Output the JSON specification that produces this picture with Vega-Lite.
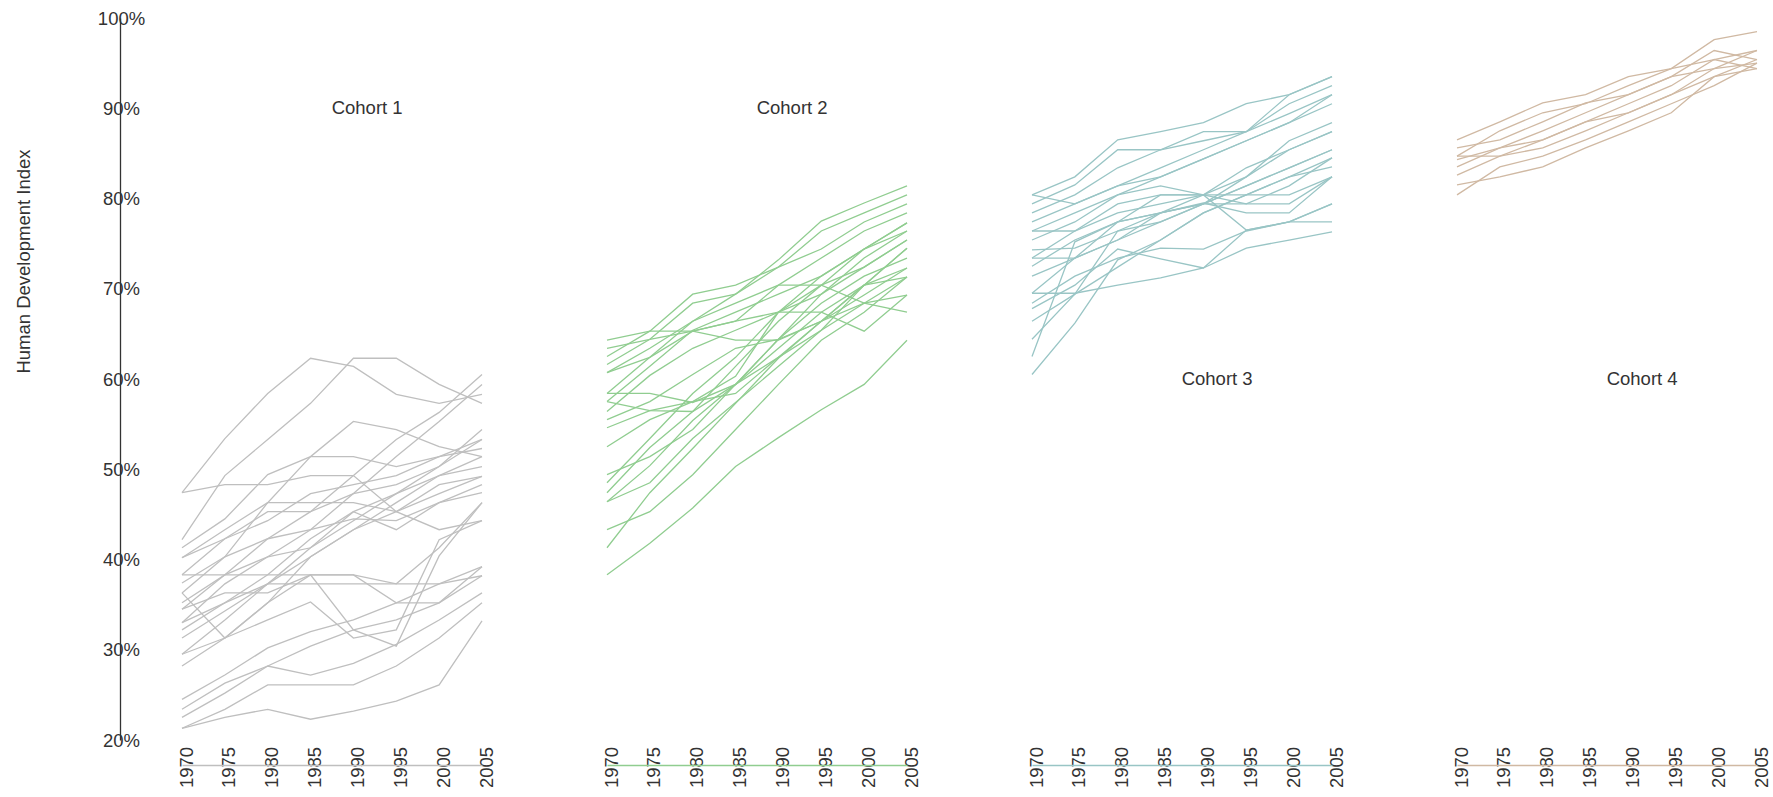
{
"$schema": "https://vega.github.io/schema/vega-lite/v6.json",
"background": "white",
"padding": {"left": 14, "top": 9, "right": 0, "bottom": 0},
"bounds": "flush",
"spacing": 125,
"config": {"font": "Liberation Sans", "view": {"stroke": null}, "axis": {"grid": false, "labelFont": "Liberation Sans", "labelFontSize": 18.5, "labelColor": "#333333", "labelFlush": false, "labelOverlap": false, "labelBound": false, "ticks": false, "tickSize": 0}},
"datasets": {"hdi": [
{"cohort":1,"id":"a01","year":1970,"hdi":47.4},{"cohort":1,"id":"a01","year":1975,"hdi":53.4},{"cohort":1,"id":"a01","year":1980,"hdi":58.4},{"cohort":1,"id":"a01","year":1985,"hdi":62.3},{"cohort":1,"id":"a01","year":1990,"hdi":61.4},{"cohort":1,"id":"a01","year":1995,"hdi":58.3},{"cohort":1,"id":"a01","year":2000,"hdi":57.3},{"cohort":1,"id":"a01","year":2005,"hdi":58.3},
{"cohort":1,"id":"a02","year":1970,"hdi":42.2},{"cohort":1,"id":"a02","year":1975,"hdi":49.3},{"cohort":1,"id":"a02","year":1980,"hdi":53.3},{"cohort":1,"id":"a02","year":1985,"hdi":57.3},{"cohort":1,"id":"a02","year":1990,"hdi":62.3},{"cohort":1,"id":"a02","year":1995,"hdi":62.3},{"cohort":1,"id":"a02","year":2000,"hdi":59.4},{"cohort":1,"id":"a02","year":2005,"hdi":57.3},
{"cohort":1,"id":"a03","year":1970,"hdi":47.4},{"cohort":1,"id":"a03","year":1975,"hdi":48.3},{"cohort":1,"id":"a03","year":1980,"hdi":48.3},{"cohort":1,"id":"a03","year":1985,"hdi":49.3},{"cohort":1,"id":"a03","year":1990,"hdi":49.3},{"cohort":1,"id":"a03","year":1995,"hdi":45.3},{"cohort":1,"id":"a03","year":2000,"hdi":43.3},{"cohort":1,"id":"a03","year":2005,"hdi":44.3},
{"cohort":1,"id":"a04","year":1970,"hdi":41.3},{"cohort":1,"id":"a04","year":1975,"hdi":44.5},{"cohort":1,"id":"a04","year":1980,"hdi":49.4},{"cohort":1,"id":"a04","year":1985,"hdi":51.4},{"cohort":1,"id":"a04","year":1990,"hdi":55.3},{"cohort":1,"id":"a04","year":1995,"hdi":54.4},{"cohort":1,"id":"a04","year":2000,"hdi":52.5},{"cohort":1,"id":"a04","year":2005,"hdi":51.4},
{"cohort":1,"id":"a05","year":1970,"hdi":40.2},{"cohort":1,"id":"a05","year":1975,"hdi":43.3},{"cohort":1,"id":"a05","year":1980,"hdi":46.3},{"cohort":1,"id":"a05","year":1985,"hdi":51.4},{"cohort":1,"id":"a05","year":1990,"hdi":51.4},{"cohort":1,"id":"a05","year":1995,"hdi":50.3},{"cohort":1,"id":"a05","year":2000,"hdi":51.4},{"cohort":1,"id":"a05","year":2005,"hdi":52.3},
{"cohort":1,"id":"a06","year":1970,"hdi":36.3},{"cohort":1,"id":"a06","year":1975,"hdi":40.3},{"cohort":1,"id":"a06","year":1980,"hdi":46.3},{"cohort":1,"id":"a06","year":1985,"hdi":46.3},{"cohort":1,"id":"a06","year":1990,"hdi":46.3},{"cohort":1,"id":"a06","year":1995,"hdi":45.3},{"cohort":1,"id":"a06","year":2000,"hdi":48.3},{"cohort":1,"id":"a06","year":2005,"hdi":49.2},
{"cohort":1,"id":"a07","year":1970,"hdi":38.3},{"cohort":1,"id":"a07","year":1975,"hdi":42.3},{"cohort":1,"id":"a07","year":1980,"hdi":45.3},{"cohort":1,"id":"a07","year":1985,"hdi":45.3},{"cohort":1,"id":"a07","year":1990,"hdi":47.3},{"cohort":1,"id":"a07","year":1995,"hdi":48.3},{"cohort":1,"id":"a07","year":2000,"hdi":50.3},{"cohort":1,"id":"a07","year":2005,"hdi":53.3},
{"cohort":1,"id":"a08","year":1970,"hdi":34.5},{"cohort":1,"id":"a08","year":1975,"hdi":38.3},{"cohort":1,"id":"a08","year":1980,"hdi":42.3},{"cohort":1,"id":"a08","year":1985,"hdi":45.3},{"cohort":1,"id":"a08","year":1990,"hdi":49.3},{"cohort":1,"id":"a08","year":1995,"hdi":53.3},{"cohort":1,"id":"a08","year":2000,"hdi":56.3},{"cohort":1,"id":"a08","year":2005,"hdi":60.5},
{"cohort":1,"id":"a09","year":1970,"hdi":33.0},{"cohort":1,"id":"a09","year":1975,"hdi":37.3},{"cohort":1,"id":"a09","year":1980,"hdi":40.3},{"cohort":1,"id":"a09","year":1985,"hdi":43.3},{"cohort":1,"id":"a09","year":1990,"hdi":47.3},{"cohort":1,"id":"a09","year":1995,"hdi":51.4},{"cohort":1,"id":"a09","year":2000,"hdi":55.3},{"cohort":1,"id":"a09","year":2005,"hdi":59.4},
{"cohort":1,"id":"a10","year":1970,"hdi":36.3},{"cohort":1,"id":"a10","year":1975,"hdi":31.3},{"cohort":1,"id":"a10","year":1980,"hdi":35.2},{"cohort":1,"id":"a10","year":1985,"hdi":40.3},{"cohort":1,"id":"a10","year":1990,"hdi":43.3},{"cohort":1,"id":"a10","year":1995,"hdi":46.3},{"cohort":1,"id":"a10","year":2000,"hdi":49.3},{"cohort":1,"id":"a10","year":2005,"hdi":51.4},
{"cohort":1,"id":"a11","year":1970,"hdi":37.4},{"cohort":1,"id":"a11","year":1975,"hdi":40.3},{"cohort":1,"id":"a11","year":1980,"hdi":42.3},{"cohort":1,"id":"a11","year":1985,"hdi":43.3},{"cohort":1,"id":"a11","year":1990,"hdi":44.5},{"cohort":1,"id":"a11","year":1995,"hdi":44.3},{"cohort":1,"id":"a11","year":2000,"hdi":46.3},{"cohort":1,"id":"a11","year":2005,"hdi":48.3},
{"cohort":1,"id":"a12","year":1970,"hdi":35.2},{"cohort":1,"id":"a12","year":1975,"hdi":38.3},{"cohort":1,"id":"a12","year":1980,"hdi":40.3},{"cohort":1,"id":"a12","year":1985,"hdi":41.3},{"cohort":1,"id":"a12","year":1990,"hdi":45.3},{"cohort":1,"id":"a12","year":1995,"hdi":43.3},{"cohort":1,"id":"a12","year":2000,"hdi":46.3},{"cohort":1,"id":"a12","year":2005,"hdi":47.4},
{"cohort":1,"id":"a13","year":1970,"hdi":32.2},{"cohort":1,"id":"a13","year":1975,"hdi":35.2},{"cohort":1,"id":"a13","year":1980,"hdi":38.3},{"cohort":1,"id":"a13","year":1985,"hdi":42.3},{"cohort":1,"id":"a13","year":1990,"hdi":45.3},{"cohort":1,"id":"a13","year":1995,"hdi":47.3},{"cohort":1,"id":"a13","year":2000,"hdi":49.3},{"cohort":1,"id":"a13","year":2005,"hdi":50.3},
{"cohort":1,"id":"a14","year":1970,"hdi":31.3},{"cohort":1,"id":"a14","year":1975,"hdi":34.3},{"cohort":1,"id":"a14","year":1980,"hdi":37.3},{"cohort":1,"id":"a14","year":1985,"hdi":41.3},{"cohort":1,"id":"a14","year":1990,"hdi":44.3},{"cohort":1,"id":"a14","year":1995,"hdi":47.3},{"cohort":1,"id":"a14","year":2000,"hdi":50.3},{"cohort":1,"id":"a14","year":2005,"hdi":54.4},
{"cohort":1,"id":"a15","year":1970,"hdi":29.5},{"cohort":1,"id":"a15","year":1975,"hdi":33.3},{"cohort":1,"id":"a15","year":1980,"hdi":37.3},{"cohort":1,"id":"a15","year":1985,"hdi":40.3},{"cohort":1,"id":"a15","year":1990,"hdi":43.3},{"cohort":1,"id":"a15","year":1995,"hdi":45.3},{"cohort":1,"id":"a15","year":2000,"hdi":47.3},{"cohort":1,"id":"a15","year":2005,"hdi":49.2},
{"cohort":1,"id":"a16","year":1970,"hdi":28.2},{"cohort":1,"id":"a16","year":1975,"hdi":31.3},{"cohort":1,"id":"a16","year":1980,"hdi":35.2},{"cohort":1,"id":"a16","year":1985,"hdi":38.3},{"cohort":1,"id":"a16","year":1990,"hdi":38.3},{"cohort":1,"id":"a16","year":1995,"hdi":37.3},{"cohort":1,"id":"a16","year":2000,"hdi":41.3},{"cohort":1,"id":"a16","year":2005,"hdi":46.3},
{"cohort":1,"id":"a17","year":1970,"hdi":34.5},{"cohort":1,"id":"a17","year":1975,"hdi":36.3},{"cohort":1,"id":"a17","year":1980,"hdi":36.3},{"cohort":1,"id":"a17","year":1985,"hdi":38.3},{"cohort":1,"id":"a17","year":1990,"hdi":32.2},{"cohort":1,"id":"a17","year":1995,"hdi":30.4},{"cohort":1,"id":"a17","year":2000,"hdi":40.4},{"cohort":1,"id":"a17","year":2005,"hdi":46.3},
{"cohort":1,"id":"a18","year":1970,"hdi":29.5},{"cohort":1,"id":"a18","year":1975,"hdi":31.3},{"cohort":1,"id":"a18","year":1980,"hdi":33.3},{"cohort":1,"id":"a18","year":1985,"hdi":35.3},{"cohort":1,"id":"a18","year":1990,"hdi":31.3},{"cohort":1,"id":"a18","year":1995,"hdi":32.2},{"cohort":1,"id":"a18","year":2000,"hdi":42.2},{"cohort":1,"id":"a18","year":2005,"hdi":44.3},
{"cohort":1,"id":"a19","year":1970,"hdi":33.0},{"cohort":1,"id":"a19","year":1975,"hdi":35.2},{"cohort":1,"id":"a19","year":1980,"hdi":37.3},{"cohort":1,"id":"a19","year":1985,"hdi":37.3},{"cohort":1,"id":"a19","year":1990,"hdi":37.3},{"cohort":1,"id":"a19","year":1995,"hdi":37.3},{"cohort":1,"id":"a19","year":2000,"hdi":37.3},{"cohort":1,"id":"a19","year":2005,"hdi":38.2},
{"cohort":1,"id":"a20","year":1970,"hdi":38.3},{"cohort":1,"id":"a20","year":1975,"hdi":38.3},{"cohort":1,"id":"a20","year":1980,"hdi":38.3},{"cohort":1,"id":"a20","year":1985,"hdi":38.3},{"cohort":1,"id":"a20","year":1990,"hdi":38.3},{"cohort":1,"id":"a20","year":1995,"hdi":35.2},{"cohort":1,"id":"a20","year":2000,"hdi":35.2},{"cohort":1,"id":"a20","year":2005,"hdi":39.2},
{"cohort":1,"id":"a21","year":1970,"hdi":24.5},{"cohort":1,"id":"a21","year":1975,"hdi":27.2},{"cohort":1,"id":"a21","year":1980,"hdi":30.2},{"cohort":1,"id":"a21","year":1985,"hdi":32.0},{"cohort":1,"id":"a21","year":1990,"hdi":33.3},{"cohort":1,"id":"a21","year":1995,"hdi":35.2},{"cohort":1,"id":"a21","year":2000,"hdi":37.3},{"cohort":1,"id":"a21","year":2005,"hdi":39.2},
{"cohort":1,"id":"a22","year":1970,"hdi":23.4},{"cohort":1,"id":"a22","year":1975,"hdi":26.3},{"cohort":1,"id":"a22","year":1980,"hdi":28.2},{"cohort":1,"id":"a22","year":1985,"hdi":30.4},{"cohort":1,"id":"a22","year":1990,"hdi":32.2},{"cohort":1,"id":"a22","year":1995,"hdi":33.3},{"cohort":1,"id":"a22","year":2000,"hdi":35.2},{"cohort":1,"id":"a22","year":2005,"hdi":38.2},
{"cohort":1,"id":"a23","year":1970,"hdi":22.5},{"cohort":1,"id":"a23","year":1975,"hdi":25.2},{"cohort":1,"id":"a23","year":1980,"hdi":28.2},{"cohort":1,"id":"a23","year":1985,"hdi":27.2},{"cohort":1,"id":"a23","year":1990,"hdi":28.5},{"cohort":1,"id":"a23","year":1995,"hdi":30.6},{"cohort":1,"id":"a23","year":2000,"hdi":33.3},{"cohort":1,"id":"a23","year":2005,"hdi":36.3},
{"cohort":1,"id":"a24","year":1970,"hdi":21.3},{"cohort":1,"id":"a24","year":1975,"hdi":23.4},{"cohort":1,"id":"a24","year":1980,"hdi":26.1},{"cohort":1,"id":"a24","year":1985,"hdi":26.1},{"cohort":1,"id":"a24","year":1990,"hdi":26.1},{"cohort":1,"id":"a24","year":1995,"hdi":28.2},{"cohort":1,"id":"a24","year":2000,"hdi":31.3},{"cohort":1,"id":"a24","year":2005,"hdi":35.2},
{"cohort":1,"id":"a25","year":1970,"hdi":21.3},{"cohort":1,"id":"a25","year":1975,"hdi":22.5},{"cohort":1,"id":"a25","year":1980,"hdi":23.4},{"cohort":1,"id":"a25","year":1985,"hdi":22.3},{"cohort":1,"id":"a25","year":1990,"hdi":23.2},{"cohort":1,"id":"a25","year":1995,"hdi":24.3},{"cohort":1,"id":"a25","year":2000,"hdi":26.1},{"cohort":1,"id":"a25","year":2005,"hdi":33.2},
{"cohort":1,"id":"a26","year":1970,"hdi":40.2},{"cohort":1,"id":"a26","year":1975,"hdi":42.3},{"cohort":1,"id":"a26","year":1980,"hdi":44.3},{"cohort":1,"id":"a26","year":1985,"hdi":47.3},{"cohort":1,"id":"a26","year":1990,"hdi":48.3},{"cohort":1,"id":"a26","year":1995,"hdi":49.3},{"cohort":1,"id":"a26","year":2000,"hdi":51.4},{"cohort":1,"id":"a26","year":2005,"hdi":53.3},
{"cohort":2,"id":"b01","year":1970,"hdi":38.3},{"cohort":2,"id":"b01","year":1975,"hdi":41.8},{"cohort":2,"id":"b01","year":1980,"hdi":45.7},{"cohort":2,"id":"b01","year":1985,"hdi":50.3},{"cohort":2,"id":"b01","year":1990,"hdi":53.5},{"cohort":2,"id":"b01","year":1995,"hdi":56.6},{"cohort":2,"id":"b01","year":2000,"hdi":59.4},{"cohort":2,"id":"b01","year":2005,"hdi":64.3},
{"cohort":2,"id":"b02","year":1970,"hdi":41.3},{"cohort":2,"id":"b02","year":1975,"hdi":47.4},{"cohort":2,"id":"b02","year":1980,"hdi":52.3},{"cohort":2,"id":"b02","year":1985,"hdi":57.3},{"cohort":2,"id":"b02","year":1990,"hdi":62.3},{"cohort":2,"id":"b02","year":1995,"hdi":66.4},{"cohort":2,"id":"b02","year":2000,"hdi":69.3},{"cohort":2,"id":"b02","year":2005,"hdi":72.3},
{"cohort":2,"id":"b03","year":1970,"hdi":43.3},{"cohort":2,"id":"b03","year":1975,"hdi":45.3},{"cohort":2,"id":"b03","year":1980,"hdi":49.4},{"cohort":2,"id":"b03","year":1985,"hdi":54.4},{"cohort":2,"id":"b03","year":1990,"hdi":59.4},{"cohort":2,"id":"b03","year":1995,"hdi":64.3},{"cohort":2,"id":"b03","year":2000,"hdi":67.4},{"cohort":2,"id":"b03","year":2005,"hdi":71.3},
{"cohort":2,"id":"b04","year":1970,"hdi":46.4},{"cohort":2,"id":"b04","year":1975,"hdi":50.4},{"cohort":2,"id":"b04","year":1980,"hdi":55.4},{"cohort":2,"id":"b04","year":1985,"hdi":59.4},{"cohort":2,"id":"b04","year":1990,"hdi":63.4},{"cohort":2,"id":"b04","year":1995,"hdi":67.4},{"cohort":2,"id":"b04","year":2000,"hdi":70.4},{"cohort":2,"id":"b04","year":2005,"hdi":74.5},
{"cohort":2,"id":"b05","year":1970,"hdi":47.4},{"cohort":2,"id":"b05","year":1975,"hdi":52.4},{"cohort":2,"id":"b05","year":1980,"hdi":56.4},{"cohort":2,"id":"b05","year":1985,"hdi":61.4},{"cohort":2,"id":"b05","year":1990,"hdi":66.4},{"cohort":2,"id":"b05","year":1995,"hdi":70.4},{"cohort":2,"id":"b05","year":2000,"hdi":72.4},{"cohort":2,"id":"b05","year":2005,"hdi":75.4},
{"cohort":2,"id":"b06","year":1970,"hdi":48.5},{"cohort":2,"id":"b06","year":1975,"hdi":53.4},{"cohort":2,"id":"b06","year":1980,"hdi":58.4},{"cohort":2,"id":"b06","year":1985,"hdi":62.4},{"cohort":2,"id":"b06","year":1990,"hdi":67.4},{"cohort":2,"id":"b06","year":1995,"hdi":71.4},{"cohort":2,"id":"b06","year":2000,"hdi":74.4},{"cohort":2,"id":"b06","year":2005,"hdi":76.4},
{"cohort":2,"id":"b07","year":1970,"hdi":49.4},{"cohort":2,"id":"b07","year":1975,"hdi":51.4},{"cohort":2,"id":"b07","year":1980,"hdi":54.4},{"cohort":2,"id":"b07","year":1985,"hdi":59.4},{"cohort":2,"id":"b07","year":1990,"hdi":64.4},{"cohort":2,"id":"b07","year":1995,"hdi":68.4},{"cohort":2,"id":"b07","year":2000,"hdi":71.4},{"cohort":2,"id":"b07","year":2005,"hdi":73.4},
{"cohort":2,"id":"b08","year":1970,"hdi":46.4},{"cohort":2,"id":"b08","year":1975,"hdi":48.5},{"cohort":2,"id":"b08","year":1980,"hdi":53.4},{"cohort":2,"id":"b08","year":1985,"hdi":57.4},{"cohort":2,"id":"b08","year":1990,"hdi":61.4},{"cohort":2,"id":"b08","year":1995,"hdi":65.4},{"cohort":2,"id":"b08","year":2000,"hdi":68.4},{"cohort":2,"id":"b08","year":2005,"hdi":71.3},
{"cohort":2,"id":"b09","year":1970,"hdi":54.6},{"cohort":2,"id":"b09","year":1975,"hdi":56.5},{"cohort":2,"id":"b09","year":1980,"hdi":57.5},{"cohort":2,"id":"b09","year":1985,"hdi":58.4},{"cohort":2,"id":"b09","year":1990,"hdi":62.4},{"cohort":2,"id":"b09","year":1995,"hdi":66.4},{"cohort":2,"id":"b09","year":2000,"hdi":70.4},{"cohort":2,"id":"b09","year":2005,"hdi":72.3},
{"cohort":2,"id":"b10","year":1970,"hdi":64.3},{"cohort":2,"id":"b10","year":1975,"hdi":65.3},{"cohort":2,"id":"b10","year":1980,"hdi":65.3},{"cohort":2,"id":"b10","year":1985,"hdi":64.3},{"cohort":2,"id":"b10","year":1990,"hdi":64.3},{"cohort":2,"id":"b10","year":1995,"hdi":66.4},{"cohort":2,"id":"b10","year":2000,"hdi":68.4},{"cohort":2,"id":"b10","year":2005,"hdi":69.3},
{"cohort":2,"id":"b11","year":1970,"hdi":55.5},{"cohort":2,"id":"b11","year":1975,"hdi":57.5},{"cohort":2,"id":"b11","year":1980,"hdi":60.5},{"cohort":2,"id":"b11","year":1985,"hdi":63.4},{"cohort":2,"id":"b11","year":1990,"hdi":64.4},{"cohort":2,"id":"b11","year":1995,"hdi":66.4},{"cohort":2,"id":"b11","year":2000,"hdi":70.4},{"cohort":2,"id":"b11","year":2005,"hdi":71.3},
{"cohort":2,"id":"b12","year":1970,"hdi":56.4},{"cohort":2,"id":"b12","year":1975,"hdi":60.4},{"cohort":2,"id":"b12","year":1980,"hdi":63.4},{"cohort":2,"id":"b12","year":1985,"hdi":65.4},{"cohort":2,"id":"b12","year":1990,"hdi":67.4},{"cohort":2,"id":"b12","year":1995,"hdi":70.4},{"cohort":2,"id":"b12","year":2000,"hdi":74.4},{"cohort":2,"id":"b12","year":2005,"hdi":77.3},
{"cohort":2,"id":"b13","year":1970,"hdi":57.5},{"cohort":2,"id":"b13","year":1975,"hdi":61.4},{"cohort":2,"id":"b13","year":1980,"hdi":65.4},{"cohort":2,"id":"b13","year":1985,"hdi":67.4},{"cohort":2,"id":"b13","year":1990,"hdi":69.4},{"cohort":2,"id":"b13","year":1995,"hdi":71.4},{"cohort":2,"id":"b13","year":2000,"hdi":74.4},{"cohort":2,"id":"b13","year":2005,"hdi":77.3},
{"cohort":2,"id":"b14","year":1970,"hdi":58.4},{"cohort":2,"id":"b14","year":1975,"hdi":62.4},{"cohort":2,"id":"b14","year":1980,"hdi":66.4},{"cohort":2,"id":"b14","year":1985,"hdi":68.4},{"cohort":2,"id":"b14","year":1990,"hdi":70.4},{"cohort":2,"id":"b14","year":1995,"hdi":73.4},{"cohort":2,"id":"b14","year":2000,"hdi":76.4},{"cohort":2,"id":"b14","year":2005,"hdi":78.4},
{"cohort":2,"id":"b15","year":1970,"hdi":60.7},{"cohort":2,"id":"b15","year":1975,"hdi":63.4},{"cohort":2,"id":"b15","year":1980,"hdi":66.4},{"cohort":2,"id":"b15","year":1985,"hdi":69.4},{"cohort":2,"id":"b15","year":1990,"hdi":72.4},{"cohort":2,"id":"b15","year":1995,"hdi":76.4},{"cohort":2,"id":"b15","year":2000,"hdi":78.4},{"cohort":2,"id":"b15","year":2005,"hdi":80.4},
{"cohort":2,"id":"b16","year":1970,"hdi":61.6},{"cohort":2,"id":"b16","year":1975,"hdi":64.4},{"cohort":2,"id":"b16","year":1980,"hdi":68.4},{"cohort":2,"id":"b16","year":1985,"hdi":69.4},{"cohort":2,"id":"b16","year":1990,"hdi":73.2},{"cohort":2,"id":"b16","year":1995,"hdi":77.5},{"cohort":2,"id":"b16","year":2000,"hdi":79.5},{"cohort":2,"id":"b16","year":2005,"hdi":81.4},
{"cohort":2,"id":"b17","year":1970,"hdi":62.5},{"cohort":2,"id":"b17","year":1975,"hdi":65.3},{"cohort":2,"id":"b17","year":1980,"hdi":69.4},{"cohort":2,"id":"b17","year":1985,"hdi":70.4},{"cohort":2,"id":"b17","year":1990,"hdi":72.4},{"cohort":2,"id":"b17","year":1995,"hdi":74.4},{"cohort":2,"id":"b17","year":2000,"hdi":77.4},{"cohort":2,"id":"b17","year":2005,"hdi":79.4},
{"cohort":2,"id":"b18","year":1970,"hdi":63.4},{"cohort":2,"id":"b18","year":1975,"hdi":64.4},{"cohort":2,"id":"b18","year":1980,"hdi":65.3},{"cohort":2,"id":"b18","year":1985,"hdi":66.4},{"cohort":2,"id":"b18","year":1990,"hdi":70.4},{"cohort":2,"id":"b18","year":1995,"hdi":70.4},{"cohort":2,"id":"b18","year":2000,"hdi":68.4},{"cohort":2,"id":"b18","year":2005,"hdi":67.4},
{"cohort":2,"id":"b19","year":1970,"hdi":52.5},{"cohort":2,"id":"b19","year":1975,"hdi":55.5},{"cohort":2,"id":"b19","year":1980,"hdi":57.5},{"cohort":2,"id":"b19","year":1985,"hdi":60.3},{"cohort":2,"id":"b19","year":1990,"hdi":67.4},{"cohort":2,"id":"b19","year":1995,"hdi":67.4},{"cohort":2,"id":"b19","year":2000,"hdi":65.3},{"cohort":2,"id":"b19","year":2005,"hdi":69.3},
{"cohort":2,"id":"b20","year":1970,"hdi":60.7},{"cohort":2,"id":"b20","year":1975,"hdi":62.4},{"cohort":2,"id":"b20","year":1980,"hdi":65.3},{"cohort":2,"id":"b20","year":1985,"hdi":66.4},{"cohort":2,"id":"b20","year":1990,"hdi":67.4},{"cohort":2,"id":"b20","year":1995,"hdi":69.4},{"cohort":2,"id":"b20","year":2000,"hdi":72.4},{"cohort":2,"id":"b20","year":2005,"hdi":75.4},
{"cohort":2,"id":"b21","year":1970,"hdi":58.4},{"cohort":2,"id":"b21","year":1975,"hdi":58.4},{"cohort":2,"id":"b21","year":1980,"hdi":57.4},{"cohort":2,"id":"b21","year":1985,"hdi":59.4},{"cohort":2,"id":"b21","year":1990,"hdi":62.4},{"cohort":2,"id":"b21","year":1995,"hdi":65.4},{"cohort":2,"id":"b21","year":2000,"hdi":70.4},{"cohort":2,"id":"b21","year":2005,"hdi":74.5},
{"cohort":2,"id":"b22","year":1970,"hdi":57.5},{"cohort":2,"id":"b22","year":1975,"hdi":56.5},{"cohort":2,"id":"b22","year":1980,"hdi":56.4},{"cohort":2,"id":"b22","year":1985,"hdi":59.4},{"cohort":2,"id":"b22","year":1990,"hdi":64.4},{"cohort":2,"id":"b22","year":1995,"hdi":69.4},{"cohort":2,"id":"b22","year":2000,"hdi":73.4},{"cohort":2,"id":"b22","year":2005,"hdi":76.4},
{"cohort":3,"id":"c01","year":1970,"hdi":80.4},{"cohort":3,"id":"c01","year":1975,"hdi":82.4},{"cohort":3,"id":"c01","year":1980,"hdi":86.5},{"cohort":3,"id":"c01","year":1985,"hdi":87.4},{"cohort":3,"id":"c01","year":1990,"hdi":88.4},{"cohort":3,"id":"c01","year":1995,"hdi":90.5},{"cohort":3,"id":"c01","year":2000,"hdi":91.5},{"cohort":3,"id":"c01","year":2005,"hdi":93.5},
{"cohort":3,"id":"c02","year":1970,"hdi":79.4},{"cohort":3,"id":"c02","year":1975,"hdi":81.5},{"cohort":3,"id":"c02","year":1980,"hdi":85.4},{"cohort":3,"id":"c02","year":1985,"hdi":85.4},{"cohort":3,"id":"c02","year":1990,"hdi":87.4},{"cohort":3,"id":"c02","year":1995,"hdi":87.4},{"cohort":3,"id":"c02","year":2000,"hdi":90.5},{"cohort":3,"id":"c02","year":2005,"hdi":92.5},
{"cohort":3,"id":"c03","year":1970,"hdi":78.4},{"cohort":3,"id":"c03","year":1975,"hdi":80.4},{"cohort":3,"id":"c03","year":1980,"hdi":83.4},{"cohort":3,"id":"c03","year":1985,"hdi":85.4},{"cohort":3,"id":"c03","year":1990,"hdi":86.4},{"cohort":3,"id":"c03","year":1995,"hdi":87.4},{"cohort":3,"id":"c03","year":2000,"hdi":91.5},{"cohort":3,"id":"c03","year":2005,"hdi":93.5},
{"cohort":3,"id":"c04","year":1970,"hdi":77.4},{"cohort":3,"id":"c04","year":1975,"hdi":79.4},{"cohort":3,"id":"c04","year":1980,"hdi":81.4},{"cohort":3,"id":"c04","year":1985,"hdi":83.4},{"cohort":3,"id":"c04","year":1990,"hdi":85.4},{"cohort":3,"id":"c04","year":1995,"hdi":87.4},{"cohort":3,"id":"c04","year":2000,"hdi":89.4},{"cohort":3,"id":"c04","year":2005,"hdi":91.5},
{"cohort":3,"id":"c05","year":1970,"hdi":76.4},{"cohort":3,"id":"c05","year":1975,"hdi":78.4},{"cohort":3,"id":"c05","year":1980,"hdi":80.4},{"cohort":3,"id":"c05","year":1985,"hdi":82.4},{"cohort":3,"id":"c05","year":1990,"hdi":84.4},{"cohort":3,"id":"c05","year":1995,"hdi":86.4},{"cohort":3,"id":"c05","year":2000,"hdi":88.4},{"cohort":3,"id":"c05","year":2005,"hdi":90.5},
{"cohort":3,"id":"c06","year":1970,"hdi":75.4},{"cohort":3,"id":"c06","year":1975,"hdi":77.4},{"cohort":3,"id":"c06","year":1980,"hdi":80.4},{"cohort":3,"id":"c06","year":1985,"hdi":81.4},{"cohort":3,"id":"c06","year":1990,"hdi":80.4},{"cohort":3,"id":"c06","year":1995,"hdi":82.4},{"cohort":3,"id":"c06","year":2000,"hdi":86.4},{"cohort":3,"id":"c06","year":2005,"hdi":88.4},
{"cohort":3,"id":"c07","year":1970,"hdi":74.3},{"cohort":3,"id":"c07","year":1975,"hdi":74.5},{"cohort":3,"id":"c07","year":1980,"hdi":76.4},{"cohort":3,"id":"c07","year":1985,"hdi":78.4},{"cohort":3,"id":"c07","year":1990,"hdi":80.4},{"cohort":3,"id":"c07","year":1995,"hdi":80.4},{"cohort":3,"id":"c07","year":2000,"hdi":80.4},{"cohort":3,"id":"c07","year":2005,"hdi":82.4},
{"cohort":3,"id":"c08","year":1970,"hdi":73.4},{"cohort":3,"id":"c08","year":1975,"hdi":76.4},{"cohort":3,"id":"c08","year":1980,"hdi":79.4},{"cohort":3,"id":"c08","year":1985,"hdi":80.4},{"cohort":3,"id":"c08","year":1990,"hdi":80.4},{"cohort":3,"id":"c08","year":1995,"hdi":76.5},{"cohort":3,"id":"c08","year":2000,"hdi":77.4},{"cohort":3,"id":"c08","year":2005,"hdi":79.4},
{"cohort":3,"id":"c09","year":1970,"hdi":72.5},{"cohort":3,"id":"c09","year":1975,"hdi":75.4},{"cohort":3,"id":"c09","year":1980,"hdi":77.4},{"cohort":3,"id":"c09","year":1985,"hdi":78.4},{"cohort":3,"id":"c09","year":1990,"hdi":79.5},{"cohort":3,"id":"c09","year":1995,"hdi":78.4},{"cohort":3,"id":"c09","year":2000,"hdi":78.4},{"cohort":3,"id":"c09","year":2005,"hdi":82.4},
{"cohort":3,"id":"c10","year":1970,"hdi":71.4},{"cohort":3,"id":"c10","year":1975,"hdi":73.4},{"cohort":3,"id":"c10","year":1980,"hdi":75.4},{"cohort":3,"id":"c10","year":1985,"hdi":78.4},{"cohort":3,"id":"c10","year":1990,"hdi":79.4},{"cohort":3,"id":"c10","year":1995,"hdi":81.4},{"cohort":3,"id":"c10","year":2000,"hdi":83.4},{"cohort":3,"id":"c10","year":2005,"hdi":85.4},
{"cohort":3,"id":"c11","year":1970,"hdi":69.5},{"cohort":3,"id":"c11","year":1975,"hdi":69.5},{"cohort":3,"id":"c11","year":1980,"hdi":70.4},{"cohort":3,"id":"c11","year":1985,"hdi":71.2},{"cohort":3,"id":"c11","year":1990,"hdi":72.3},{"cohort":3,"id":"c11","year":1995,"hdi":74.5},{"cohort":3,"id":"c11","year":2000,"hdi":75.4},{"cohort":3,"id":"c11","year":2005,"hdi":76.3},
{"cohort":3,"id":"c12","year":1970,"hdi":68.4},{"cohort":3,"id":"c12","year":1975,"hdi":71.4},{"cohort":3,"id":"c12","year":1980,"hdi":73.4},{"cohort":3,"id":"c12","year":1985,"hdi":74.5},{"cohort":3,"id":"c12","year":1990,"hdi":74.4},{"cohort":3,"id":"c12","year":1995,"hdi":76.4},{"cohort":3,"id":"c12","year":2000,"hdi":77.4},{"cohort":3,"id":"c12","year":2005,"hdi":77.4},
{"cohort":3,"id":"c13","year":1970,"hdi":67.8},{"cohort":3,"id":"c13","year":1975,"hdi":70.4},{"cohort":3,"id":"c13","year":1980,"hdi":74.4},{"cohort":3,"id":"c13","year":1985,"hdi":73.3},{"cohort":3,"id":"c13","year":1990,"hdi":72.3},{"cohort":3,"id":"c13","year":1995,"hdi":76.5},{"cohort":3,"id":"c13","year":2000,"hdi":77.4},{"cohort":3,"id":"c13","year":2005,"hdi":79.4},
{"cohort":3,"id":"c14","year":1970,"hdi":66.4},{"cohort":3,"id":"c14","year":1975,"hdi":69.4},{"cohort":3,"id":"c14","year":1980,"hdi":72.4},{"cohort":3,"id":"c14","year":1985,"hdi":75.4},{"cohort":3,"id":"c14","year":1990,"hdi":78.4},{"cohort":3,"id":"c14","year":1995,"hdi":80.4},{"cohort":3,"id":"c14","year":2000,"hdi":82.4},{"cohort":3,"id":"c14","year":2005,"hdi":84.5},
{"cohort":3,"id":"c15","year":1970,"hdi":64.4},{"cohort":3,"id":"c15","year":1975,"hdi":69.4},{"cohort":3,"id":"c15","year":1980,"hdi":76.4},{"cohort":3,"id":"c15","year":1985,"hdi":77.4},{"cohort":3,"id":"c15","year":1990,"hdi":79.4},{"cohort":3,"id":"c15","year":1995,"hdi":81.4},{"cohort":3,"id":"c15","year":2000,"hdi":83.4},{"cohort":3,"id":"c15","year":2005,"hdi":85.4},
{"cohort":3,"id":"c16","year":1970,"hdi":62.5},{"cohort":3,"id":"c16","year":1975,"hdi":75.2},{"cohort":3,"id":"c16","year":1980,"hdi":77.4},{"cohort":3,"id":"c16","year":1985,"hdi":78.4},{"cohort":3,"id":"c16","year":1990,"hdi":79.4},{"cohort":3,"id":"c16","year":1995,"hdi":82.4},{"cohort":3,"id":"c16","year":2000,"hdi":85.4},{"cohort":3,"id":"c16","year":2005,"hdi":87.4},
{"cohort":3,"id":"c17","year":1970,"hdi":60.5},{"cohort":3,"id":"c17","year":1975,"hdi":66.2},{"cohort":3,"id":"c17","year":1980,"hdi":73.2},{"cohort":3,"id":"c17","year":1985,"hdi":75.4},{"cohort":3,"id":"c17","year":1990,"hdi":78.4},{"cohort":3,"id":"c17","year":1995,"hdi":80.4},{"cohort":3,"id":"c17","year":2000,"hdi":82.4},{"cohort":3,"id":"c17","year":2005,"hdi":83.5},
{"cohort":3,"id":"c18","year":1970,"hdi":80.4},{"cohort":3,"id":"c18","year":1975,"hdi":79.4},{"cohort":3,"id":"c18","year":1980,"hdi":81.4},{"cohort":3,"id":"c18","year":1985,"hdi":82.4},{"cohort":3,"id":"c18","year":1990,"hdi":84.4},{"cohort":3,"id":"c18","year":1995,"hdi":86.4},{"cohort":3,"id":"c18","year":2000,"hdi":88.4},{"cohort":3,"id":"c18","year":2005,"hdi":91.5},
{"cohort":3,"id":"c19","year":1970,"hdi":73.4},{"cohort":3,"id":"c19","year":1975,"hdi":73.4},{"cohort":3,"id":"c19","year":1980,"hdi":77.4},{"cohort":3,"id":"c19","year":1985,"hdi":80.4},{"cohort":3,"id":"c19","year":1990,"hdi":80.4},{"cohort":3,"id":"c19","year":1995,"hdi":79.4},{"cohort":3,"id":"c19","year":2000,"hdi":79.4},{"cohort":3,"id":"c19","year":2005,"hdi":82.4},
{"cohort":3,"id":"c20","year":1970,"hdi":76.4},{"cohort":3,"id":"c20","year":1975,"hdi":76.4},{"cohort":3,"id":"c20","year":1980,"hdi":78.4},{"cohort":3,"id":"c20","year":1985,"hdi":79.4},{"cohort":3,"id":"c20","year":1990,"hdi":80.4},{"cohort":3,"id":"c20","year":1995,"hdi":83.4},{"cohort":3,"id":"c20","year":2000,"hdi":85.4},{"cohort":3,"id":"c20","year":2005,"hdi":87.4},
{"cohort":3,"id":"c21","year":1970,"hdi":69.5},{"cohort":3,"id":"c21","year":1975,"hdi":73.4},{"cohort":3,"id":"c21","year":1980,"hdi":75.4},{"cohort":3,"id":"c21","year":1985,"hdi":77.4},{"cohort":3,"id":"c21","year":1990,"hdi":79.4},{"cohort":3,"id":"c21","year":1995,"hdi":79.4},{"cohort":3,"id":"c21","year":2000,"hdi":81.4},{"cohort":3,"id":"c21","year":2005,"hdi":84.5},
{"cohort":4,"id":"d01","year":1970,"hdi":86.5},{"cohort":4,"id":"d01","year":1975,"hdi":88.5},{"cohort":4,"id":"d01","year":1980,"hdi":90.6},{"cohort":4,"id":"d01","year":1985,"hdi":91.5},{"cohort":4,"id":"d01","year":1990,"hdi":93.5},{"cohort":4,"id":"d01","year":1995,"hdi":94.4},{"cohort":4,"id":"d01","year":2000,"hdi":97.6},{"cohort":4,"id":"d01","year":2005,"hdi":98.5},
{"cohort":4,"id":"d02","year":1970,"hdi":85.6},{"cohort":4,"id":"d02","year":1975,"hdi":86.5},{"cohort":4,"id":"d02","year":1980,"hdi":88.5},{"cohort":4,"id":"d02","year":1985,"hdi":90.6},{"cohort":4,"id":"d02","year":1990,"hdi":91.5},{"cohort":4,"id":"d02","year":1995,"hdi":93.5},{"cohort":4,"id":"d02","year":2000,"hdi":96.4},{"cohort":4,"id":"d02","year":2005,"hdi":95.4},
{"cohort":4,"id":"d03","year":1970,"hdi":84.7},{"cohort":4,"id":"d03","year":1975,"hdi":87.5},{"cohort":4,"id":"d03","year":1980,"hdi":89.5},{"cohort":4,"id":"d03","year":1985,"hdi":90.5},{"cohort":4,"id":"d03","year":1990,"hdi":92.5},{"cohort":4,"id":"d03","year":1995,"hdi":94.4},{"cohort":4,"id":"d03","year":2000,"hdi":95.4},{"cohort":4,"id":"d03","year":2005,"hdi":96.4},
{"cohort":4,"id":"d04","year":1970,"hdi":84.3},{"cohort":4,"id":"d04","year":1975,"hdi":85.6},{"cohort":4,"id":"d04","year":1980,"hdi":87.5},{"cohort":4,"id":"d04","year":1985,"hdi":89.5},{"cohort":4,"id":"d04","year":1990,"hdi":91.5},{"cohort":4,"id":"d04","year":1995,"hdi":93.5},{"cohort":4,"id":"d04","year":2000,"hdi":94.4},{"cohort":4,"id":"d04","year":2005,"hdi":95.0},
{"cohort":4,"id":"d05","year":1970,"hdi":83.5},{"cohort":4,"id":"d05","year":1975,"hdi":85.6},{"cohort":4,"id":"d05","year":1980,"hdi":86.5},{"cohort":4,"id":"d05","year":1985,"hdi":88.5},{"cohort":4,"id":"d05","year":1990,"hdi":90.5},{"cohort":4,"id":"d05","year":1995,"hdi":92.5},{"cohort":4,"id":"d05","year":2000,"hdi":95.4},{"cohort":4,"id":"d05","year":2005,"hdi":94.4},
{"cohort":4,"id":"d06","year":1970,"hdi":84.7},{"cohort":4,"id":"d06","year":1975,"hdi":84.7},{"cohort":4,"id":"d06","year":1980,"hdi":86.5},{"cohort":4,"id":"d06","year":1985,"hdi":88.5},{"cohort":4,"id":"d06","year":1990,"hdi":89.5},{"cohort":4,"id":"d06","year":1995,"hdi":91.5},{"cohort":4,"id":"d06","year":2000,"hdi":94.4},{"cohort":4,"id":"d06","year":2005,"hdi":96.4},
{"cohort":4,"id":"d07","year":1970,"hdi":82.6},{"cohort":4,"id":"d07","year":1975,"hdi":84.7},{"cohort":4,"id":"d07","year":1980,"hdi":85.6},{"cohort":4,"id":"d07","year":1985,"hdi":87.5},{"cohort":4,"id":"d07","year":1990,"hdi":89.5},{"cohort":4,"id":"d07","year":1995,"hdi":91.5},{"cohort":4,"id":"d07","year":2000,"hdi":93.5},{"cohort":4,"id":"d07","year":2005,"hdi":95.4},
{"cohort":4,"id":"d08","year":1970,"hdi":81.5},{"cohort":4,"id":"d08","year":1975,"hdi":82.4},{"cohort":4,"id":"d08","year":1980,"hdi":83.5},{"cohort":4,"id":"d08","year":1985,"hdi":85.6},{"cohort":4,"id":"d08","year":1990,"hdi":87.5},{"cohort":4,"id":"d08","year":1995,"hdi":89.5},{"cohort":4,"id":"d08","year":2000,"hdi":93.5},{"cohort":4,"id":"d08","year":2005,"hdi":94.4},
{"cohort":4,"id":"d09","year":1970,"hdi":80.4},{"cohort":4,"id":"d09","year":1975,"hdi":83.5},{"cohort":4,"id":"d09","year":1980,"hdi":84.7},{"cohort":4,"id":"d09","year":1985,"hdi":86.5},{"cohort":4,"id":"d09","year":1990,"hdi":88.5},{"cohort":4,"id":"d09","year":1995,"hdi":90.5},{"cohort":4,"id":"d09","year":2000,"hdi":92.5},{"cohort":4,"id":"d09","year":2005,"hdi":95.0}
]},
"hconcat": [
{"width": 300, "height": 722, "layer": [
 {"data": {"name": "hdi"}, "transform": [{"filter": "datum.cohort == 1"}],
  "mark": {"type": "line", "color": "#bfbfbf", "strokeWidth": 1.3},
  "encoding": {
   "x": {"field": "year", "type": "quantitative", "scale": {"domain": [1970, 2005], "nice": false, "zero": false}, "axis": {"values": [1970,1975,1980,1985,1990,1995,2000,2005], "format": "d", "labelAngle": -90, "labelAlign": "center", "labelBaseline": "middle", "labelPadding": 2, "labelOffset": 4, "offset": 25, "domainColor": "#bfbfbf", "domainWidth": 1.3, "title": null}},
   "y": {"field": "hdi", "type": "quantitative", "scale": {"domain": [20, 100], "nice": false, "zero": false}, "axis": {"values": [20,30,40,50,60,70,80,90,100], "labelExpr": "datum.value + '%'", "labelAlign": "center", "labelBaseline": "middle", "labelPadding": -1, "offset": 62, "domainColor": "#333333", "domainWidth": 1.3, "title": "Human Development Index", "titleFont": "Liberation Sans", "titleFontSize": 18.5, "titleFontWeight": "normal", "titleColor": "#333333", "titleAngle": -90, "titleAlign": "center", "titleBaseline": "middle", "titleX": -97, "titleY": 243}},
   "detail": {"field": "id"}}},
 {"data": {"values": [{"label": "Cohort 1"}]}, "mark": {"type": "text", "fontSize": 18.5, "color": "#333333", "font": "Liberation Sans"},
  "encoding": {"x": {"datum": 1991.6, "type": "quantitative"}, "y": {"datum": 90, "type": "quantitative"}, "text": {"field": "label"}}}
]},
{"width": 300, "height": 722, "layer": [
 {"data": {"name": "hdi"}, "transform": [{"filter": "datum.cohort == 2"}],
  "mark": {"type": "line", "color": "#90cd90", "strokeWidth": 1.3},
  "encoding": {
   "x": {"field": "year", "type": "quantitative", "scale": {"domain": [1970, 2005], "nice": false, "zero": false}, "axis": {"values": [1970,1975,1980,1985,1990,1995,2000,2005], "format": "d", "labelAngle": -90, "labelAlign": "center", "labelBaseline": "middle", "labelPadding": 2, "labelOffset": 4, "offset": 25, "domainColor": "#90cd90", "domainWidth": 1.3, "title": null}},
   "y": {"field": "hdi", "type": "quantitative", "scale": {"domain": [20, 100], "nice": false, "zero": false}, "axis": null},
   "detail": {"field": "id"}}},
 {"data": {"values": [{"label": "Cohort 2"}]}, "mark": {"type": "text", "fontSize": 18.5, "color": "#333333", "font": "Liberation Sans"},
  "encoding": {"x": {"datum": 1991.6, "type": "quantitative"}, "y": {"datum": 90, "type": "quantitative"}, "text": {"field": "label"}}}
]},
{"width": 300, "height": 722, "layer": [
 {"data": {"name": "hdi"}, "transform": [{"filter": "datum.cohort == 3"}],
  "mark": {"type": "line", "color": "#99c5c5", "strokeWidth": 1.3},
  "encoding": {
   "x": {"field": "year", "type": "quantitative", "scale": {"domain": [1970, 2005], "nice": false, "zero": false}, "axis": {"values": [1970,1975,1980,1985,1990,1995,2000,2005], "format": "d", "labelAngle": -90, "labelAlign": "center", "labelBaseline": "middle", "labelPadding": 2, "labelOffset": 4, "offset": 25, "domainColor": "#99c5c5", "domainWidth": 1.3, "title": null}},
   "y": {"field": "hdi", "type": "quantitative", "scale": {"domain": [20, 100], "nice": false, "zero": false}, "axis": null},
   "detail": {"field": "id"}}},
 {"data": {"values": [{"label": "Cohort 3"}]}, "mark": {"type": "text", "fontSize": 18.5, "color": "#333333", "font": "Liberation Sans"},
  "encoding": {"x": {"datum": 1991.6, "type": "quantitative"}, "y": {"datum": 60, "type": "quantitative"}, "text": {"field": "label"}}}
]},
{"width": 300, "height": 722, "layer": [
 {"data": {"name": "hdi"}, "transform": [{"filter": "datum.cohort == 4"}],
  "mark": {"type": "line", "color": "#d0b9a3", "strokeWidth": 1.3},
  "encoding": {
   "x": {"field": "year", "type": "quantitative", "scale": {"domain": [1970, 2005], "nice": false, "zero": false}, "axis": {"values": [1970,1975,1980,1985,1990,1995,2000,2005], "format": "d", "labelAngle": -90, "labelAlign": "center", "labelBaseline": "middle", "labelPadding": 2, "labelOffset": 4, "offset": 25, "domainColor": "#d0b9a3", "domainWidth": 1.3, "title": null}},
   "y": {"field": "hdi", "type": "quantitative", "scale": {"domain": [20, 100], "nice": false, "zero": false}, "axis": null},
   "detail": {"field": "id"}}},
 {"data": {"values": [{"label": "Cohort 4"}]}, "mark": {"type": "text", "fontSize": 18.5, "color": "#333333", "font": "Liberation Sans"},
  "encoding": {"x": {"datum": 1991.6, "type": "quantitative"}, "y": {"datum": 60, "type": "quantitative"}, "text": {"field": "label"}}}
]}
]
}
